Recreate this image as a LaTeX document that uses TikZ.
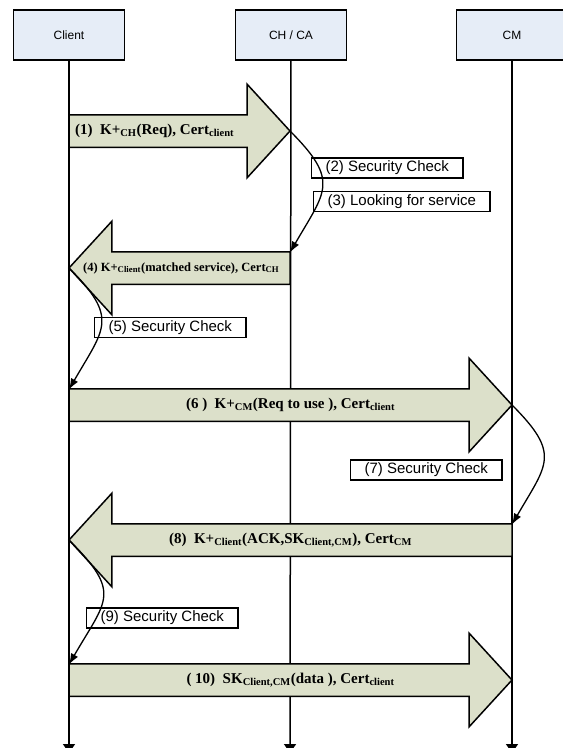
\documentclass[tikz,border=0pt]{standalone}
\usepackage{fontspec}
\setmainfont{Liberation Serif}
\setsansfont{Liberation Sans}
\usetikzlibrary{shapes.arrows,arrows.meta,calc}

% Colori
\definecolor{headFill}{HTML}{E6EDF7}
\definecolor{msgFill}{HTML}{DCE0CA}

\begin{document}
\begin{tikzpicture}[x=1pt,y=-1pt,
  actor/.style={draw, line width=1.6pt, fill=headFill, minimum width=111pt,
    minimum height=50pt, font=\sffamily\fontsize{12}{14}\selectfont},
  life/.style={line width=1.5pt, -{Triangle[width=12pt,length=9pt]}},
  fatarrow/.style={single arrow, draw, line width=1.5pt, fill=msgFill,
    inner sep=0pt, outer sep=0pt, text height=15.5pt, text depth=15.5pt,
    single arrow head extend=30.5pt, single arrow tip angle=95},
  msgtext/.style={inner xsep=0pt, font=\bfseries\fontsize{15}{17}\selectfont},
  checkbox/.style={draw, line width=1.2pt, fill=white, anchor=west,
    inner xsep=14pt, inner ysep=0pt, minimum height=20pt,
    font=\sffamily\fontsize{15}{17}\selectfont},
  loopback/.style={line width=1.3pt, -{Latex[length=11pt,width=8pt]}}
]

\useasboundingbox (0,0) rectangle (563,748);

% Attori
\node[actor] (client) at (69,35) {Client};
\node[actor] (chca) at (291,35) {CH / CA};
\node[actor] (cm) at (512,35) {CM};

% Linee di vita
\coordinate (client-end) at (69,753);
\coordinate (chca-end) at (290,753);
\coordinate (cm-end) at (512,753);
\draw[life] (client) -- (client-end);
\draw[life] (chca) -- (chca-end);
\draw[life] (cm) -- (cm-end);

% Messaggi
\node[fatarrow, minimum height=221pt, anchor=tip] (msg1) at (290,131) {};
\node[fatarrow, minimum height=221pt, anchor=tip, shape border rotate=180] (msg4) at (69,268) {};
\node[fatarrow, minimum height=443pt, anchor=tip] (msg6) at (512,405) {};
\node[fatarrow, minimum height=443pt, anchor=tip, shape border rotate=180] (msg8) at (69,540) {};
\node[fatarrow, minimum height=443pt, anchor=tip] (msg10) at (512,680) {};

% Testi dei messaggi
\node[msgtext, anchor=west] (txt1) at ([xshift=6pt]msg1.tail)
  {(1)~~K+\textsubscript{CH}(Req), Cert\textsubscript{client}};
\node[msgtext, anchor=west, font=\bfseries\fontsize{12.5}{14}\selectfont] (txt4) at ([xshift=14pt]msg4.tip)
  {(4) K+\textsubscript{Client}(matched service), Cert\textsubscript{CH}};
\node[msgtext] (txt6) at ($(msg6.tail)!0.5!(msg6.tip)$)
  {(6 )~~K+\textsubscript{CM}(Req to use ), Cert\textsubscript{client}};
\node[msgtext] (txt8) at ($(msg8.tail)!0.5!(msg8.tip)$)
  {(8)~~K+\textsubscript{Client}(ACK,SK\textsubscript{Client,CM}), Cert\textsubscript{CM}};
\node[msgtext] (txt10) at ($(msg10.tail)!0.5!(msg10.tip)$)
  {( 10)~~SK\textsubscript{Client,CM}(data ), Cert\textsubscript{client}};

% Controlli
\node[checkbox] (chk2) at (311,168) {(2) Security Check};
\node[checkbox] (chk3) at (313,201.5) {(3) Looking for service};
\node[checkbox] (chk5) at (94,327.5) {(5) Security Check};
\node[checkbox] (chk7) at (350,470) {(7) Security Check};
\node[checkbox] (chk9) at (86,618) {(9) Security Check};

% Frecce curve
\draw[loopback] (msg1.tip) to[out=-45,in=60,looseness=1.5] ($(msg4.tail)+(0,-15.5)$);
\draw[loopback] (msg4.tip) to[out=-45,in=60,looseness=1.5] ($(msg6.tail)+(0,-15.5)$);
\draw[loopback] (msg6.tip) to[out=-45,in=60,looseness=1.5] ($(msg8.tail)+(0,-15.5)$);
\draw[loopback] (msg8.tip) to[out=-45,in=60,looseness=1.55] ($(msg10.tail)+(0,-15.5)$);

\end{tikzpicture}
\end{document}
